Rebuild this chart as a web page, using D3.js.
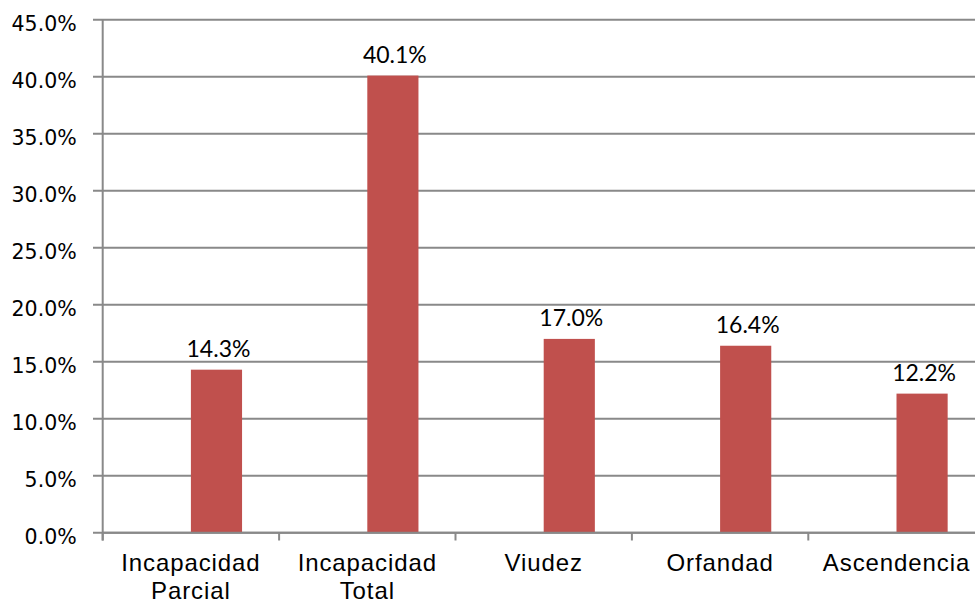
<!DOCTYPE html>
<html>
<head>
<meta charset="utf-8">
<script src="https://cdn.jsdelivr.net/npm/d3@7"></script>
<style>
  html, body { margin: 0; padding: 0; background: #fff; }
  svg { display: block; }
</style>
</head>
<body>
<div id="chart"></div>
<script>
const categories = [["Incapacidad", "Parcial"], ["Incapacidad", "Total"], ["Viudez"], ["Orfandad"], ["Ascendencia"]];
const values = [0.143, 0.401, 0.170, 0.164, 0.122];
const valueLabels = ["14.3%", "40.1%", "17.0%", "16.4%", "12.2%"];
const yTicks = [0, 0.05, 0.10, 0.15, 0.20, 0.25, 0.30, 0.35, 0.40, 0.45];

const W = 975, H = 605;
const keys = categories.map(c => c.join(" "));

const svg = d3.select("#chart").append("svg")
  .attr("width", W).attr("height", H);

const x = d3.scaleBand().domain(keys).range([102.7, 102.7 + 5 * 176.4]).padding(0);
const y = d3.scaleLinear().domain([0, 0.45]).range([532.7, 19.7]);

const gridColor = "#898989";

// gridlines
svg.append("g")
  .selectAll("line").data(yTicks).join("line")
  .attr("x1", 93).attr("x2", W)
  .attr("y1", d => y(d)).attr("y2", d => y(d))
  .attr("stroke", gridColor).attr("stroke-width", 2);

// y axis
const yAxis = svg.append("g").attr("transform", "translate(102.7,0)")
  .call(d3.axisLeft(y).tickValues(yTicks).tickFormat(d3.format(".1%")).tickSize(0).tickPadding(26));
yAxis.select(".domain").remove();
yAxis.selectAll("text")
  .attr("font-family", "'DejaVu Sans', Verdana, sans-serif")
  .attr("font-size", "20.5px")
  .attr("fill", "#000")
  .attr("dy", "0.52em");
svg.append("line")
  .attr("x1", 102.7).attr("x2", 102.7)
  .attr("y1", y(0.45)).attr("y2", 540.5)
  .attr("stroke", gridColor).attr("stroke-width", 2);

// bars
const barW = x.bandwidth() * 0.29;
svg.append("g")
  .selectAll("rect").data(values).join("rect")
  .attr("x", (d, i) => x(keys[i]) + x.bandwidth() / 2)
  .attr("y", d => y(d))
  .attr("width", barW)
  .attr("height", d => y(0) - y(d))
  .attr("fill", "#C0504D");

// data labels
svg.append("g")
  .selectAll("text").data(values).join("text")
  .attr("x", (d, i) => x(keys[i]) + x.bandwidth() / 2 + barW / 2 + 2)
  .attr("y", d => y(d) - 13)
  .attr("text-anchor", "middle")
  .attr("font-family", "Lato, 'Open Sans', sans-serif")
  .attr("font-size", "23px")
  .attr("fill", "#000")
  .text((d, i) => valueLabels[i]);

// x axis
svg.append("line")
  .attr("x1", 102.7).attr("x2", W)
  .attr("y1", 532.7).attr("y2", 532.7)
  .attr("stroke", gridColor).attr("stroke-width", 2);
svg.append("g")
  .selectAll("line").data(keys).join("line")
  .attr("x1", d => x(d)).attr("x2", d => x(d))
  .attr("y1", 532.7).attr("y2", 540.5)
  .attr("stroke", gridColor).attr("stroke-width", 2);

// category labels
const cat = svg.append("g")
  .selectAll("text").data(categories).join("text")
  .attr("x", (d, i) => x(keys[i]) + x.bandwidth() / 2)
  .attr("y", 571)
  .attr("text-anchor", "middle")
  .attr("font-family", "'Liberation Sans', Arial, sans-serif")
  .attr("font-size", "24px")
  .attr("letter-spacing", "0.9px")
  .attr("fill", "#000");
cat.each(function(d) {
  const t = d3.select(this);
  d.forEach((line, j) => {
    t.append("tspan")
      .attr("x", t.attr("x"))
      .attr("dy", j === 0 ? 0 : 28)
      .text(line);
  });
});
</script>
</body>
</html>
